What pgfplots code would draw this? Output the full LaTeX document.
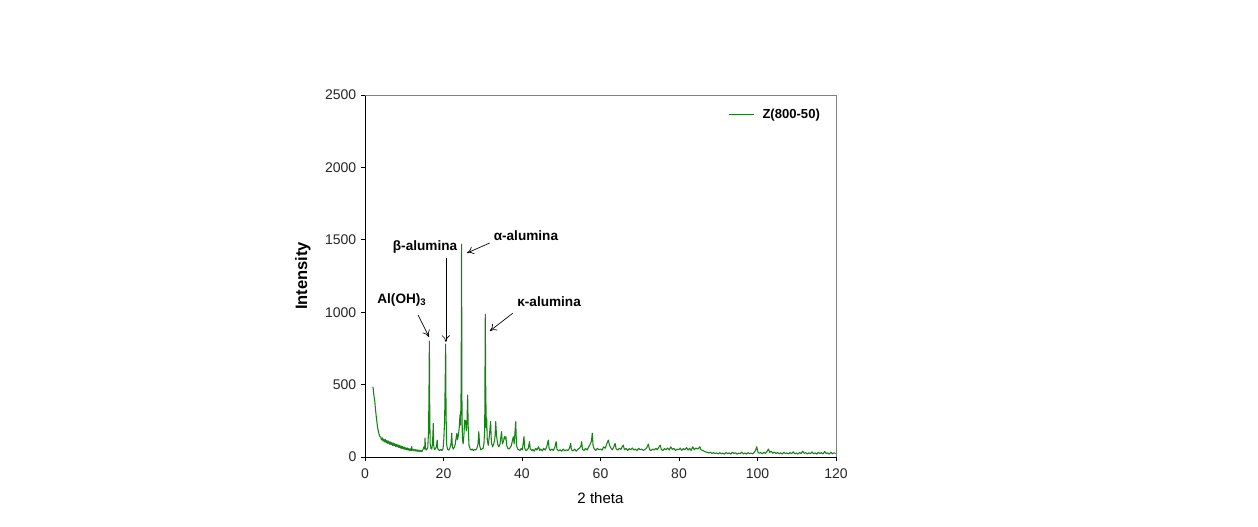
\documentclass[border=0pt]{standalone}
\usepackage{pgfplots}
\pgfplotsset{compat=1.18}
\usepackage{fontspec}
\setmainfont{Liberation Sans}
\usetikzlibrary{arrows.meta}
\definecolor{xrd}{RGB}{20,130,20}
\begin{document}
\begin{tikzpicture}
\useasboundingbox (0,0) rectangle (943.5pt,395.25pt);
\begin{axis}[
  at={(273.75pt,52.5pt)}, anchor=south west,
  scale only axis, width=353.25pt, height=271.5pt,
  xmin=0, xmax=120, ymin=0, ymax=2500,
  xtick={0,20,...,120}, ytick={0,500,...,2500},
  axis lines*=left,
  axis line style={black, line width=0.6pt},
  tick style={black, line width=0.6pt},
  tick align=outside, major tick length=3pt,
  /pgf/number format/assume math mode=true,
  /pgf/number format/1000 sep={},
  ticklabel style={font=\fontsize{10.5}{12}\selectfont, text=black!85},
  xticklabel style={yshift=-2pt},
  xlabel={2 theta}, xlabel style={font=\fontsize{11.3}{13}\selectfont, yshift=-4pt},
  ylabel={Intensity}, ylabel style={font=\fontsize{12.4}{14}\selectfont\bfseries, yshift=4pt},
  legend style={draw=none, fill=none, at={(0.972,0.945)}, anchor=east,
    font=\fontsize{9.8}{11}\selectfont\bfseries, inner sep=0pt},
  legend cell align=left,
  legend image code/.code={\draw[xrd, line width=0.7pt] (0pt,0pt) -- (19pt,0pt);},
  clip=false,
]
\addplot[xrd, line width=0.8pt, line join=round] coordinates {
(2.0,485)(2.1,470)(2.25,430)(2.4,400)(2.5,385)(2.6,350)(2.75,310)(2.9,270)(3.0,250)(3.15,215)
(3.3,190)(3.5,168)(3.65,150)(3.8,140)(4.0,138)(4.2,118)(4.4,132)(4.6,110)(4.8,124)(5.0,104)
(5.2,120)(5.4,98)(5.6,114)(5.8,94)(6.0,110)(6.2,88)(6.4,104)(6.6,86)(6.8,100)(7.0,80)
(7.2,96)(7.4,78)(7.6,92)(7.8,72)(8.0,88)(8.2,70)(8.4,84)(8.6,66)(8.8,80)(9.0,62)
(9.2,76)(9.4,58)(9.6,72)(9.8,56)(10.0,68)(10.2,52)(10.4,64)(10.6,50)(10.8,62)(11.0,47)
(11.2,58)(11.4,45)(11.6,56)(11.75,44)(11.9,72)(12.0,46)(12.25,54)(12.5,42)(12.75,52)(13.0,40)
(13.25,50)(13.5,38)(13.75,48)(14.0,36)(14.25,46)(14.5,38)(14.75,50)(15.0,70)
(15.2,55)(15.3,131)(15.4,60)(15.6,48)(15.8,55)(16.0,70)(16.2,180)(16.3,450)(16.4,800)(16.5,300)
(16.6,90)(16.8,60)(17.0,55)(17.2,90)(17.4,232)(17.5,80)(17.7,50)(18.0,60)(18.2,70)(18.4,117)
(18.5,60)(18.8,48)(19.0,45)(19.3,52)(19.6,45)(19.9,60)(20.1,130)(20.3,270)(20.45,560)(20.55,780)
(20.65,300)(20.8,90)(21.0,55)(21.3,48)(21.6,60)(21.9,90)(22.1,164)(22.25,70)(22.5,55)(22.8,70)
(23.0,90)(23.2,130)(23.4,164)(23.55,120)(23.8,150)(24.0,200)(24.2,290)(24.35,220)(24.5,500)(24.6,1470)
(24.7,400)(24.8,130)(25.0,90)(25.2,150)(25.4,255)(25.6,250)(25.8,180)(26.0,255)(26.15,428)(26.3,200)
(26.5,80)(26.8,55)(27.0,48)(27.3,55)(27.6,45)(27.9,52)(28.2,48)(28.5,60)(28.8,90)(29.0,175)
(29.2,80)(29.5,50)(29.8,55)(30.1,60)(30.3,90)(30.5,200)(30.65,985)(30.75,500)(30.9,200)(31.0,270)
(31.15,120)(31.4,80)(31.7,150)(32.0,244)(32.2,100)(32.5,70)(32.8,90)(33.1,130)(33.3,244)(33.5,150)
(33.8,90)(34.1,70)(34.4,90)(34.8,175)(35.0,90)(35.3,110)(35.5,140)(35.7,125)(35.9,140)(36.1,80)
(36.4,60)(36.7,55)(37.0,65)(37.3,80)(37.6,120)(37.8,140)(38.0,90)(38.4,244)(38.6,80)(38.9,55)
(39.2,50)(39.5,45)(39.8,60)(40.1,50)(40.5,140)(40.7,60)(41.0,45)(41.3,50)(41.6,60)(41.9,106)
(42.1,55)(42.5,45)(42.8,52)(43.1,40)(43.5,60)(43.8,48)(44.2,71)(44.5,45)(44.8,55)(45.2,42)
(45.5,60)(45.9,48)(46.3,70)(46.7,117)(46.9,60)(47.2,45)(47.6,55)(48.0,45)(48.4,70)(48.7,106)
(48.9,55)(49.3,42)(49.7,50)(50.1,40)(50.5,55)(50.9,42)(51.3,50)(51.7,45)(52.1,60)(52.4,94)
(52.6,50)(53.0,42)(53.4,55)(53.8,40)(54.2,52)(54.6,60)(55.0,75)(55.2,106)(55.4,55)(55.8,45)
(56.2,60)(56.6,48)(57.0,70)(57.4,90)(57.7,110)(57.9,164)(58.1,80)(58.4,55)(58.8,45)(59.2,60)
(59.6,50)(60.0,55)(60.4,48)(60.8,70)(61.2,60)(61.6,90)(62.0,117)(62.3,80)(62.7,60)(63.0,50)
(63.4,70)(63.7,94)(64.0,55)(64.4,48)(64.8,60)(65.2,52)(65.5,70)(65.8,82)(66.1,50)(66.5,60)
(66.9,45)(67.3,58)(67.7,50)(68.1,62)(68.5,48)(68.9,55)(69.3,45)(69.7,60)(70.1,50)(70.5,55)
(70.9,45)(71.3,52)(71.7,60)(72.2,89)(72.5,50)(72.9,45)(73.3,55)(73.7,48)(74.1,60)(74.5,50)
(74.9,70)(75.2,82)(75.5,52)(75.9,45)(76.3,58)(76.7,50)(77.1,62)(77.5,48)(77.9,70)(78.3,52)
(78.7,60)(79.1,45)(79.5,55)(79.9,50)(80.3,62)(80.7,45)(81.1,58)(81.5,50)(81.9,65)(82.3,48)
(82.7,60)(83.1,45)(83.5,70)(83.9,50)(84.3,62)(84.7,55)(85.0,60)(85.3,71)(85.6,50)(86.0,45)
(86.4,40)(86.8,35)(87.2,32)(87.6,28)(88.0,32)(88.4,25)(88.8,30)(89.2,24)(89.6,28)(90.0,22)
(90.4,30)(90.8,21)(91.2,27)(91.6,19)(92.0,31)(92.4,23)(92.8,28)(93.2,20)(93.6,33)(94.0,24)
(94.4,29)(94.8,19)(95.2,27)(95.6,22)(96.0,34)(96.4,21)(96.8,28)(97.2,20)(97.6,30)(98.0,23)
(98.4,27)(98.8,21)(99.2,35)(99.5,45)(99.8,71)(100.1,35)(100.4,26)(100.8,30)(101.2,22)(101.6,33)
(102.0,25)(102.4,38)(102.8,55)(103.1,32)(103.5,40)(103.9,26)(104.3,35)(104.7,24)(105.1,31)(105.5,22)
(105.9,29)(106.3,20)(106.7,32)(107.1,24)(107.5,28)(107.9,21)(108.3,30)(108.7,23)(109.1,36)(109.5,22)
(109.9,28)(110.3,20)(110.7,31)(111.1,24)(111.5,40)(111.9,25)(112.3,30)(112.7,21)(113.1,29)(113.5,23)
(113.9,35)(114.3,22)(114.7,28)(115.1,20)(115.5,32)(115.9,24)(116.3,30)(116.7,21)(117.1,38)(117.5,24)
(117.9,28)(118.3,20)(118.7,33)(119.1,22)(119.5,29)(119.9,24)
};
\addlegendentry{\hspace{4pt}Z(800-50)}
\draw[black!50, line width=0.6pt] (rel axis cs:0,1) -- (rel axis cs:1,1) -- (rel axis cs:1,0);
\begin{scope}[font=\fontsize{10.2}{12}\selectfont\bfseries]
\node at (axis cs:9.4,1084) {Al(OH)\textsubscript{3}};
\node at (axis cs:15.3,1450) {β-alumina};
\node at (axis cs:41.0,1526) {α-alumina};
\node at (axis cs:46.9,1070) {κ-alumina};
\end{scope}
\draw[-{To[length=5pt,width=6pt]}, line width=0.5pt] (axis cs:13.5,981) -- (axis cs:16.3,829);
\draw[-{To[length=5pt,width=6pt]}, line width=0.5pt] (axis cs:20.6,1374) -- (axis cs:20.6,794);
\draw[-{To[length=5pt,width=6pt]}, line width=0.5pt] (axis cs:31.8,1478) -- (axis cs:26.0,1409);
\draw[-{To[length=5pt,width=6pt]}, line width=0.5pt] (axis cs:37.7,994) -- (axis cs:31.8,870);
\end{axis}
\end{tikzpicture}
\end{document}
